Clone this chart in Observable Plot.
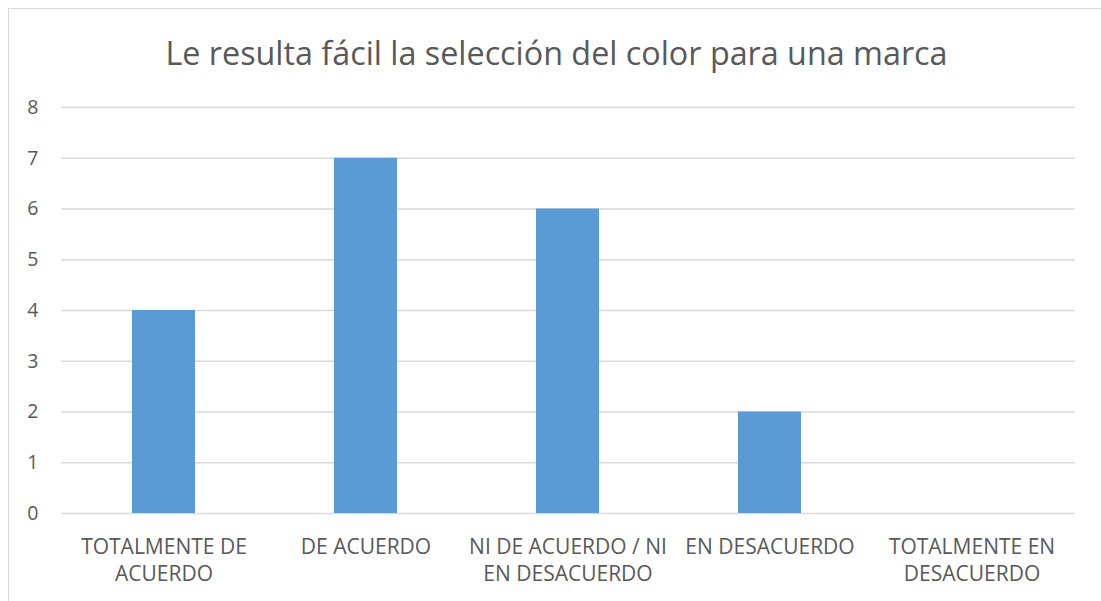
<!DOCTYPE html>
<html>
<head>
<meta charset="utf-8">
<script src="https://cdn.jsdelivr.net/npm/d3@7"></script>
<script src="https://cdn.jsdelivr.net/npm/@observablehq/plot@0.6"></script>
<style>
  html, body { margin: 0; padding: 0; background: #fff; overflow: hidden; }
  #wrap { position: relative; width: 1101px; height: 601px; overflow: hidden; background: #fff; }
  #frame { position: absolute; left: 8px; top: 8px; width: 1300px; height: 800px; border: 1px solid #d9d9d9; box-sizing: border-box; }
  #title { position: absolute; left: 6px; top: 0; width: 1101px; height: 90px; line-height: 104px; text-align: center;
           font-family: "Open Sans", sans-serif; font-size: 32.3px; color: #595959; }
  #chart { position: absolute; left: 0; top: 90px; }
</style>
</head>
<body>
<div id="wrap">
  <div id="frame"></div>
  <div id="title">Le resulta fácil la selección del color para una marca</div>
  <div id="chart"></div>
</div>
<script>
const categories = ["TOTALMENTE DE ACUERDO", "DE ACUERDO", "NI DE ACUERDO / NI EN DESACUERDO", "EN DESACUERDO", "TOTALMENTE EN DESACUERDO"];
const tickLabels = ["TOTALMENTE DE\nACUERDO", "DE ACUERDO", "NI DE ACUERDO / NI\nEN DESACUERDO", "EN DESACUERDO", "TOTALMENTE EN\nDESACUERDO"];
const values = [4, 7, 6, 2, 0];
const yTicks = [0, 1, 2, 3, 4, 5, 6, 7, 8];

const data = categories.map((c, i) => ({category: c, value: values[i]}));
const labelOf = new Map(categories.map((c, i) => [c, tickLabels[i]]));

const chart = Plot.plot({
  width: 1101,
  height: 511,
  marginLeft: 61,
  marginRight: 26,
  marginTop: 17,
  marginBottom: 88,
  style: { fontFamily: "'Open Sans', sans-serif", color: "#595959", background: "transparent" },
  x: { domain: categories, paddingInner: 0.686, paddingOuter: 0.343, label: null },
  y: { domain: [0, 8], label: null },
  marks: [
    Plot.gridY(yTicks, { stroke: "#d9d9d9", strokeOpacity: 1, strokeWidth: 1.3 }),
    Plot.barY(data, { x: "category", y: "value", fill: "#5b9bd5" }),
    Plot.axisY(yTicks, { tickSize: 0, tickPadding: 23, fontSize: 19.5, fill: "#595959", label: null, tickFormat: d3.format("d") }),
    Plot.axisX({ tickSize: 0, tickPadding: 22, fontSize: 21, fill: "#595959", lineHeight: 1.27,
                 tickFormat: d => labelOf.get(d), label: null })
  ]
});
document.getElementById("chart").appendChild(chart);
</script>
</body>
</html>
